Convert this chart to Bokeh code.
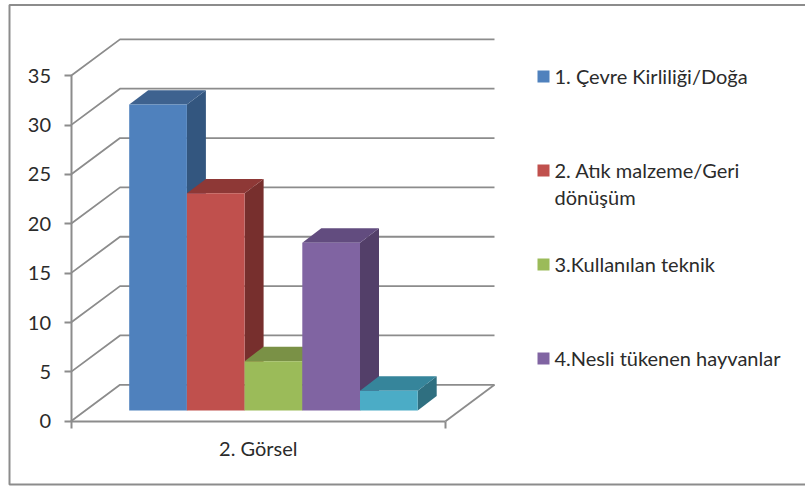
from bokeh.plotting import figure
from bokeh.models import FixedTicker, Range1d
from bokeh.core.properties import value
from bokeh.embed import file_html
from bokeh.resources import INLINE

series_names = ["1. Çevre Kirliliği/Doğa", "2. Atık malzeme/Geri\ndönüşüm", "3.Kullanılan teknik",
                "4.Nesli tükenen hayvanlar", ""]
series_values = [31, 22, 5, 17, 2]
front_colors = ["#4F81BD", "#C0504D", "#9BBB59", "#8064A2", "#4BACC6"]
top_colors = ["#3E628F", "#8E3836", "#7A9146", "#624C7F", "#36859B"]
side_colors = ["#33567F", "#772F2D", "#667A3A", "#533F69", "#2F6F80"]
y_ticks = [0, 5, 10, 15, 20, 25, 30, 35]
category = "2. Görsel"

W, H = 805, 486
AX_X, BASE_Y = 70.5, 420.7      # pixel position of the data origin
PX_X, PX_Y = 374.5, 9.87        # pixels per category, per value unit
TXT = "#2b2b2b"
GRID = "#8c8c8c"
FONT = "Lato"
FONT_SIZE = "20px"


def xd(px):
    return (px - AX_X) / PX_X


def yd(py):
    return (BASE_Y - py) / PX_Y


p = figure(width=W, height=H, output_backend="svg", toolbar_location=None,
           x_range=Range1d(xd(0), xd(W)), y_range=Range1d(yd(H), yd(0)),
           min_border=0, min_border_left=0, min_border_right=0, min_border_top=0, min_border_bottom=0,
           outline_line_color=None, background_fill_color="white", border_fill_color="white")
p.xgrid.visible = False
p.ygrid.visible = False

# outer frame (its right edge lies beyond the picture)
p.multi_line([[xd(830), xd(9), xd(9), xd(830)]], [[yd(4.5), yd(4.5), yd(484), yd(484)]],
             line_color=GRID, line_width=2)

# walls
wall_dx, wall_dy = 49 / PX_X, 36.4 / PX_Y
xs, ys = [], []
for v in y_ticks:
    xs.append([0, wall_dx, 1 + wall_dx])
    ys.append([v, v + wall_dy, v + wall_dy])
xs.append([1, 1 + wall_dx])
ys.append([0, wall_dy])
p.multi_line(xs, ys, line_color=GRID, line_width=1.8)

# bars
bar_w = 57.7 / PX_X
bar_x0 = 58.2 / PX_X
bar_floor = yd(410)
d_x, d_y = 19 / PX_X, 14.4 / PX_Y
for i, v in enumerate(series_values):
    l = bar_x0 + i * bar_w
    r = l + bar_w
    t = bar_floor + v
    b = bar_floor
    p.patch([r, r + d_x, r + d_x, r], [b, b + d_y, t + d_y, t], fill_color=side_colors[i], line_color=None)
    p.patch([l, l + d_x, r + d_x, r], [t, t + d_y, t + d_y, t], fill_color=top_colors[i], line_color=None)
    p.quad(left=l, right=r, bottom=b, top=t, fill_color=front_colors[i], line_color=None)

# axes
ya = p.yaxis[0]
ya.fixed_location = 0
ya.bounds = (0, 35)
ya.ticker = FixedTicker(ticks=y_ticks)
ya.axis_line_color = GRID
ya.axis_line_width = 2
ya.major_tick_line_color = GRID
ya.major_tick_line_width = 2
ya.major_tick_in = 0
ya.major_tick_out = 7
ya.minor_tick_line_color = None
ya.major_label_standoff = 13
ya.major_label_text_font = FONT
ya.major_label_text_font_size = FONT_SIZE
ya.major_label_text_color = TXT

xa = p.xaxis[0]
xa.fixed_location = 0
xa.bounds = (0, 1)
xa.ticker = FixedTicker(ticks=[0, 1])
xa.axis_line_color = GRID
xa.axis_line_width = 2
xa.major_tick_line_color = GRID
xa.major_tick_line_width = 2
xa.major_tick_in = 0
xa.major_tick_out = 7
xa.minor_tick_line_color = None
xa.major_label_text_font_size = "0px"
xa.major_label_text_color = None

p.text([0.5], [yd(447)], text=[category], text_font=value(FONT), text_font_size=FONT_SIZE,
       text_color=TXT, text_align="center", text_baseline="middle")

# legend
legend_rows = [76, 170, 264, 358]
for i, row in enumerate(legend_rows):
    p.scatter([xd(543)], [yd(row)], marker="square", size=12, fill_color=front_colors[i], line_color=None)
    p.text([xd(554)], [yd(row - 13)], text=[series_names[i]], text_font=value(FONT), text_font_size=FONT_SIZE,
           text_color=TXT, text_align="left", text_baseline="top", text_line_height=1.125)

# the reference runs to the very edge of the window
html = file_html(p, INLINE).replace("<head>", "<head><style>html,body{margin:0;padding:0;overflow:hidden}</style>", 1)
open("out.html", "w").write(html)
